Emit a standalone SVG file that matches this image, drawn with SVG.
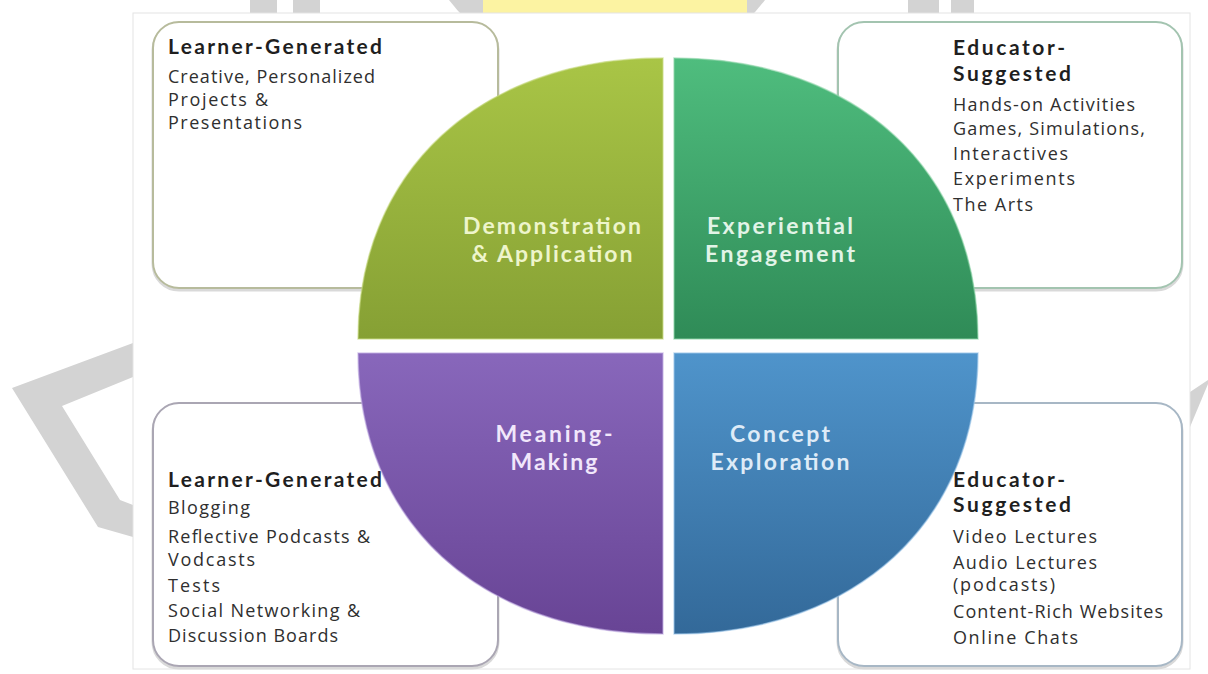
<svg xmlns="http://www.w3.org/2000/svg" width="1208" height="674" viewBox="0 0 1208 674">
<style>
.wm{fill:#d3d3d3}
.box{fill:#ffffff;stroke-width:2}
.shadow{fill:none;stroke:#d9d9d9;stroke-width:3}
.tx{font-family:"Open Sans","Noto Sans",sans-serif;font-size:18px;fill:#2f2f2f}
.hd{font-family:Lato,"Open Sans",sans-serif;font-weight:700;font-size:21px;fill:#1f1f1f}
.ql{font-family:Lato,"Open Sans",sans-serif;font-weight:700;font-size:23px;text-anchor:middle}
.q{stroke-width:1.5;stroke-opacity:0.6}
</style>
<defs>
<linearGradient id="gUL" gradientUnits="userSpaceOnUse" x1="0" y1="58" x2="0" y2="339"><stop offset="0" stop-color="#a9c546"/><stop offset="1" stop-color="#86a034"/></linearGradient>
<linearGradient id="gUR" gradientUnits="userSpaceOnUse" x1="0" y1="58" x2="0" y2="339"><stop offset="0" stop-color="#4fbd7e"/><stop offset="1" stop-color="#2f8b57"/></linearGradient>
<linearGradient id="gLL" gradientUnits="userSpaceOnUse" x1="0" y1="353" x2="0" y2="634"><stop offset="0" stop-color="#8867bb"/><stop offset="1" stop-color="#684495"/></linearGradient>
<linearGradient id="gLR" gradientUnits="userSpaceOnUse" x1="0" y1="353" x2="0" y2="634"><stop offset="0" stop-color="#4f94cb"/><stop offset="1" stop-color="#336999"/></linearGradient>
</defs>
<rect width="1208" height="674" fill="#ffffff"/>
<g id="watermark">
<rect class="wm" x="250" y="0" width="27" height="14"/>
<rect class="wm" x="293" y="0" width="27" height="14"/>
<circle class="wm" cx="607" cy="-121" r="199"/>
<rect x="483" y="0" width="264" height="14" fill="#fcf3a2"/>
<rect class="wm" x="908" y="0" width="31" height="14"/>
<rect class="wm" x="951" y="0" width="23" height="14"/>
<polygon class="wm" points="12,388 133,343 133,377 62,406 120,500 133,505 133,537 98,527"/>
<polygon class="wm" points="1190,392 1208,380 1208,384 1190,427"/>
</g>
<rect id="panel" x="133" y="13" width="1057" height="656" fill="#ffffff" stroke="#e4e4e4" stroke-width="1"/>
<g id="box-tl">
<rect class="shadow" x="153" y="24" width="345" height="266" rx="26"/>
<rect class="box" x="153" y="22" width="345" height="266" rx="26" stroke="#b7bb9c"/>
<text class="hd" x="168" y="54" textLength="214">Learner-Generated</text>
<text class="tx"><tspan x="168" y="83" textLength="207">Creative, Personalized</tspan><tspan x="168" y="106" textLength="100">Projects &amp;</tspan><tspan x="168" y="129" textLength="134">Presentations</tspan></text>
</g>
<g id="box-tr">
<rect class="shadow" x="838" y="24" width="344" height="266" rx="26"/>
<rect class="box" x="838" y="22" width="344" height="266" rx="26" stroke="#a3c4b0"/>
<text class="hd" x="953" y="55" textLength="112">Educator-</text>
<text class="hd" x="953" y="80.5" textLength="118">Suggested</text>
<text class="tx"><tspan x="953" y="111" textLength="182">Hands-on Activities</tspan><tspan x="953" y="135" textLength="192">Games, Simulations,</tspan><tspan x="953" y="160" textLength="115">Interactives</tspan><tspan x="953" y="185" textLength="122">Experiments</tspan><tspan x="953" y="211" textLength="80">The Arts</tspan></text>
</g>
<g id="box-bl">
<rect class="shadow" x="153" y="405" width="345" height="263" rx="26"/>
<rect class="box" x="153" y="403" width="345" height="263" rx="26" stroke="#aaa6b3"/>
<text class="hd" x="168" y="487" textLength="214">Learner-Generated</text>
<text class="tx"><tspan x="168" y="514" textLength="82">Blogging</tspan><tspan x="168" y="543" textLength="202">Reflective Podcasts &amp;</tspan><tspan x="168" y="566" textLength="87">Vodcasts</tspan><tspan x="168" y="592" textLength="52">Tests</tspan><tspan x="168" y="617" textLength="192">Social Networking &amp;</tspan><tspan x="168" y="642" textLength="170">Discussion Boards</tspan></text>
</g>
<g id="box-br">
<rect class="shadow" x="838" y="405" width="344" height="263" rx="26"/>
<rect class="box" x="838" y="403" width="344" height="263" rx="26" stroke="#a7b7c5"/>
<text class="hd" x="953" y="486.5" textLength="112">Educator-</text>
<text class="hd" x="953" y="512" textLength="118">Suggested</text>
<text class="tx"><tspan x="953" y="543" textLength="144">Video Lectures</tspan><tspan x="953" y="569" textLength="144">Audio Lectures</tspan><tspan x="953" y="591" textLength="102">(podcasts)</tspan><tspan x="953" y="618" textLength="210">Content-Rich Websites</tspan><tspan x="953" y="644" textLength="125">Online Chats</tspan></text>
</g>
<g id="q-demonstration">
<path class="q" d="M663,339 L358,339 C358,170.4 480,58 663,58 Z" fill="url(#gUL)" stroke="#c9dc86"/>
<text class="ql" x="552" y="234" fill="#eef5cb" textLength="178">Demonstration</text>
<text class="ql" x="552" y="262" fill="#eef5cb" textLength="161">&amp; Application</text>
</g>
<g id="q-experiential">
<path class="q" d="M674,339 L674,58 C856,58 978,170.4 978,339 Z" fill="url(#gUR)" stroke="#8fd6aa"/>
<text class="ql" x="780" y="234" fill="#e2f4e7" textLength="146">Experiential</text>
<text class="ql" x="780" y="262" fill="#e2f4e7" textLength="150">Engagement</text>
</g>
<g id="q-meaning">
<path class="q" d="M663,353 L663,634 C480,634 358,521.6 358,353 Z" fill="url(#gLL)" stroke="#c2aee3"/>
<text class="ql" x="554" y="442" fill="#f1e7fb" textLength="117">Meaning-</text>
<text class="ql" x="554" y="470" fill="#f1e7fb" textLength="87">Making</text>
</g>
<g id="q-concept">
<path class="q" d="M674,353 L978,353 C978,521.6 856,634 674,634 Z" fill="url(#gLR)" stroke="#9cc6ea"/>
<text class="ql" x="780" y="442" fill="#deebf7" textLength="100">Concept</text>
<text class="ql" x="780" y="470" fill="#deebf7" textLength="139">Exploration</text>
</g>
<g id="connectors"/>
</svg>
